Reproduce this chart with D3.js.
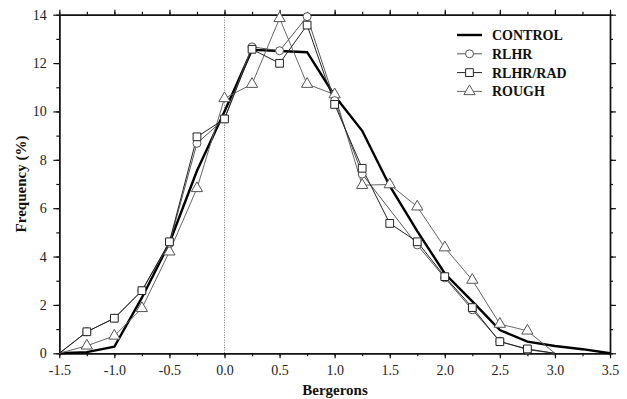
<!DOCTYPE html>
<html><head><meta charset="utf-8">
<script src="https://cdn.jsdelivr.net/npm/d3@7"></script>
<style>body{margin:0;background:#fff}svg{display:block}</style>
</head><body>
<svg id="c" width="627" height="399"></svg>
<script>
const bins = [-1.5,-1.25,-1.0,-0.75,-0.5,-0.25,0,0.25,0.5,0.75,1.0,1.25,1.5,1.75,2.0,2.25,2.5,2.75,3.0,3.25,3.5];
const controlX = bins;
const controlY = [0,0.05,0.27,2.3,4.56,7.55,10.0,12.55,12.5,12.45,10.65,9.2,6.92,5.05,3.3,2.15,0.96,0.48,0.3,0.17,0];
const rlhrX = [-1.5,-1.25,-1.0,-0.75,-0.5,-0.25,0,0.25,0.5,0.75,1.0,1.25,1.75,2.0,2.25,2.5,2.75,3.0];
const rlhrY = [0,0.89,1.45,2.59,4.55,8.68,9.7,12.67,12.51,13.92,10.45,7.41,4.48,3.12,1.8,0.5,0.15,0];
const radX = [-1.5,-1.25,-1.0,-0.75,-0.5,-0.25,0,0.25,0.5,0.75,1.0,1.25,1.5,1.75,2.0,2.25,2.5,2.75,3.0];
const radY = [0,0.89,1.45,2.59,4.61,8.95,9.69,12.57,11.99,13.57,10.29,7.65,5.37,4.61,3.17,1.89,0.48,0.18,0];
const roughX = [-1.5,-1.25,-1.0,-0.75,-0.5,-0.25,0,0.25,0.5,0.75,1.0,1.25,1.5,1.75,2.0,2.25,2.5,2.75,3.0];
const roughY = [0,0.31,0.72,1.86,4.2,6.82,10.54,11.13,13.85,11.13,10.7,6.95,6.98,6.06,4.37,3.03,1.21,0.93,0];
const xTicks = [-1.5,-1.0,-0.5,0.0,0.5,1.0,1.5,2.0,2.5,3.0,3.5];
const xMinor = d3.range(-1.5,3.5001,0.25);
const yTicks = [0,2,4,6,8,10,12,14];
const yMinor = d3.range(0,14.001,1);
const legendNames = ["CONTROL","RLHR","RLHR/RAD","ROUGH"];

const svg = d3.select("#c");
const L=59.3, R=610, T=14.7, B=353.3;
const x = d3.scaleLinear().domain([-1.5,3.5]).range([L,R]);
const y = d3.scaleLinear().domain([0,14]).range([B,T]);
const serif = "'Liberation Serif','Times New Roman',serif";

// zero dotted line
svg.append("line").attr("x1",x(0)).attr("x2",x(0)).attr("y1",T).attr("y2",B)
  .attr("stroke","#777").attr("stroke-width",1).attr("stroke-dasharray","1,1.5");

// axes
function ax(gen, tr, ticks, size, labels){
  const g = svg.append("g").attr("transform",tr)
    .call(gen.tickValues(ticks).tickSize(size).tickSizeOuter(0).tickFormat(labels? labels : ""));
  g.select(".domain").attr("stroke","#111").attr("stroke-width",1.4);
  g.selectAll(".tick line").attr("stroke","#111").attr("stroke-width",1.2);
  g.selectAll("text").attr("font-family",serif).attr("font-size","14px").attr("fill","#222");
  return g;
}
const fx = d => d3.format(".1f")(d).replace("\u2212","-");
ax(d3.axisBottom(x),`translate(0,${B})`,xMinor,3,null);
const gb = ax(d3.axisBottom(x),`translate(0,${B})`,xTicks,5,fx);
gb.selectAll("text").attr("dy","1.0em");
ax(d3.axisTop(x),`translate(0,${T})`,xMinor,3,null);
ax(d3.axisTop(x),`translate(0,${T})`,xTicks,5,null);
ax(d3.axisLeft(y),`translate(${L},0)`,yMinor,3,null);
const gl = ax(d3.axisLeft(y),`translate(${L},0)`,yTicks,6,d=>d);
gl.selectAll("text").attr("dx","-0.25em");
ax(d3.axisRight(y),`translate(${R},0)`,yMinor,3,null);
ax(d3.axisRight(y),`translate(${R},0)`,yTicks,6,null);

const line = d3.line().x(d=>x(d[0])).y(d=>y(d[1]));
const zip = (a,b)=>a.map((v,i)=>[v,b[i]]);

const series = [
  {name:legendNames[0], data:zip(controlX,controlY), stroke:"#000", w:2.4, marker:null},
  {name:legendNames[3], data:zip(roughX,roughY), stroke:"#666", w:1, marker:"tri"},
  {name:legendNames[1], data:zip(rlhrX,rlhrY), stroke:"#555", w:1, marker:"circle"},
  {name:legendNames[2], data:zip(radX,radY), stroke:"#222", w:1, marker:"square"},
];
const sym = {circle:d3.symbolCircle, square:d3.symbolSquare, tri:d3.symbolTriangle};
const symSize = {circle:50, square:60, tri:55};
const symStroke = {circle:"#555", square:"#222", tri:"#555"};
series.forEach(s=>{
  svg.append("path").attr("d",line(s.data)).attr("fill","none")
    .attr("stroke",s.stroke).attr("stroke-width",s.w).attr("stroke-linejoin","miter");
});
series.forEach(s=>{
  if(!s.marker) return;
  const sh = d3.symbol().type(sym[s.marker]).size(symSize[s.marker]);
  svg.append("g").selectAll("path").data(s.data.filter(d=>!(d[1]===0))).join("path")
    .attr("d",sh).attr("transform",d=>`translate(${x(d[0])},${y(d[1])})`)
    .attr("fill","#fff").attr("stroke",symStroke[s.marker]).attr("stroke-width",1);
});

// legend
const leg = [
  {name:legendNames[0], stroke:"#000", w:2.4, marker:null},
  {name:legendNames[1], stroke:"#555", w:1, marker:"circle"},
  {name:legendNames[2], stroke:"#222", w:1, marker:"square"},
  {name:legendNames[3], stroke:"#666", w:1, marker:"tri"},
];
leg.forEach((d,i)=>{
  const yy = 35 + i*18.8;
  svg.append("line").attr("x1",457).attr("x2",482).attr("y1",yy).attr("y2",yy)
    .attr("stroke",d.stroke).attr("stroke-width",d.w);
  if(d.marker){
    svg.append("path").attr("d",d3.symbol().type(sym[d.marker]).size(symSize[d.marker])())
      .attr("transform",`translate(469.5,${yy})`).attr("fill","#fff")
      .attr("stroke",symStroke[d.marker]).attr("stroke-width",1);
  }
  svg.append("text").attr("x",492).attr("y",yy).attr("dy","0.35em")
    .attr("font-family",serif).attr("font-weight","bold").attr("font-size","14px")
    .attr("fill","#111").text(d.name);
});

// axis titles
svg.append("text").attr("x",335).attr("y",390).attr("dy","0.35em").attr("text-anchor","middle")
  .attr("font-family",serif).attr("font-weight","bold").attr("font-size","15px").attr("fill","#111")
  .text("Bergerons");
svg.append("text").attr("transform","translate(21,184) rotate(-90)").attr("dy","0.35em")
  .attr("text-anchor","middle").attr("font-family",serif).attr("font-weight","bold")
  .attr("font-size","15px").attr("fill","#111").text("Frequency (%)");
</script>
</body></html>
